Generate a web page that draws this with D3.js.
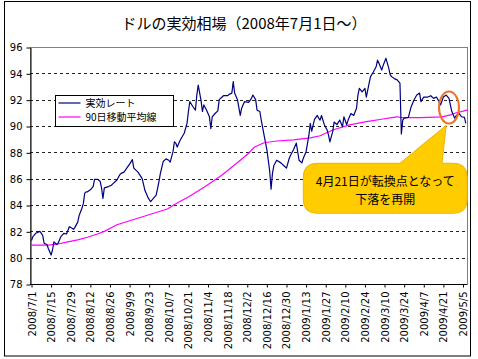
<!DOCTYPE html>
<html>
<head>
<meta charset="utf-8">
<script src="https://cdnjs.cloudflare.com/ajax/libs/d3/7.8.5/d3.min.js"></script>
<style>
  body{margin:0;background:#fff;}
  svg{display:block;}
  text{font-family:"DejaVu Sans",sans-serif;}
  .jp{font-family:"Noto Sans CJK JP",sans-serif;}
</style>
</head>
<body>
<svg id="chart" width="478" height="359"></svg>
<script>
// 実効レート (daily effective rate)
var rateDates = ["2008-07-01","2008-07-02","2008-07-04","2008-07-07","2008-07-09","2008-07-10","2008-07-12","2008-07-13","2008-07-15","2008-07-16","2008-07-17","2008-07-19","2008-07-20","2008-07-22","2008-07-24","2008-07-26","2008-07-28","2008-07-29","2008-07-31",
  "2008-08-01","2008-08-03","2008-08-04","2008-08-06","2008-08-07","2008-08-08","2008-08-09","2008-08-10","2008-08-12","2008-08-14","2008-08-15","2008-08-17","2008-08-19","2008-08-20","2008-08-21","2008-08-22","2008-08-25","2008-08-27","2008-08-28","2008-08-31",
  "2008-09-02","2008-09-03","2008-09-05","2008-09-07","2008-09-09","2008-09-11","2008-09-12","2008-09-15","2008-09-18","2008-09-20","2008-09-22","2008-09-24","2008-09-26","2008-09-28","2008-09-30",
  "2008-10-01","2008-10-03","2008-10-05","2008-10-07","2008-10-08","2008-10-10","2008-10-11","2008-10-12","2008-10-13","2008-10-15","2008-10-18","2008-10-20","2008-10-21","2008-10-22","2008-10-24","2008-10-26","2008-10-27","2008-10-28","2008-10-30","2008-10-31",
  "2008-11-01","2008-11-03","2008-11-05","2008-11-06","2008-11-07","2008-11-09","2008-11-11","2008-11-12","2008-11-14","2008-11-15","2008-11-18","2008-11-19","2008-11-21","2008-11-22","2008-11-23","2008-11-25","2008-11-27","2008-11-28","2008-11-30",
  "2008-12-03","2008-12-05","2008-12-06","2008-12-08","2008-12-09","2008-12-11","2008-12-12","2008-12-14","2008-12-16","2008-12-18","2008-12-19","2008-12-20","2008-12-21","2008-12-23","2008-12-26","2008-12-28","2008-12-30",
  "2009-01-01","2009-01-02","2009-01-04","2009-01-06","2009-01-08","2009-01-10","2009-01-11","2009-01-13","2009-01-15","2009-01-16","2009-01-17","2009-01-19","2009-01-21","2009-01-22","2009-01-23","2009-01-24","2009-01-26","2009-01-28","2009-01-29","2009-01-30",
  "2009-02-01","2009-02-02","2009-02-04","2009-02-06","2009-02-08","2009-02-09","2009-02-11","2009-02-12","2009-02-14","2009-02-16","2009-02-18","2009-02-19","2009-02-20","2009-02-22","2009-02-24","2009-02-25","2009-02-27","2009-02-28",
  "2009-03-02","2009-03-04","2009-03-05","2009-03-06","2009-03-08","2009-03-09","2009-03-11","2009-03-13","2009-03-14","2009-03-15","2009-03-17","2009-03-19","2009-03-21","2009-03-22","2009-03-23","2009-03-24","2009-03-27","2009-03-29","2009-03-31",
  "2009-04-02","2009-04-04","2009-04-05","2009-04-07","2009-04-10","2009-04-12","2009-04-14","2009-04-16","2009-04-18","2009-04-19","2009-04-21","2009-04-23","2009-04-25","2009-04-27","2009-04-29","2009-04-30",
  "2009-05-02","2009-05-04","2009-05-06","2009-05-07"];
var rateValues = [81.3,81.6,81.85,82.0,81.7,81.1,81.0,80.7,80.2,80.6,81.2,81.0,81.1,81.6,81.85,81.8,82.35,82.3,82.15,
  82.3,82.7,83.2,83.75,84.1,84.9,85.0,85.0,85.15,85.4,85.95,85.95,85.8,85.3,84.5,85.3,85.4,85.5,85.6,85.9,
  86.3,86.4,86.5,86.8,87.1,87.45,86.8,86.5,86.0,85.1,84.6,84.25,84.5,84.75,85.8,
  86.4,87.3,87.5,87.4,87.25,88.05,88.8,88.7,88.4,88.9,89.45,90.2,91.1,91.85,91.5,91.2,92.35,93.1,91.95,91.1,
  91.6,91.2,90.7,89.8,90.7,90.95,91.15,92.0,92.2,92.3,92.3,92.4,92.5,93.37,92.5,92.0,90.8,91.35,91.85,
  91.8,92.1,92.35,92.0,91.2,91.1,90.45,89.3,88.2,86.6,85.2,86.4,87.0,87.4,87.2,87.0,86.8,
  87.55,87.8,88.2,88.7,87.4,87.2,87.55,88.05,89.3,90.2,89.6,90.5,90.8,90.6,90.45,90.8,90.1,89.7,89.3,88.8,
  89.57,90.3,90.1,90.45,89.95,90.7,90.1,90.45,90.95,90.8,91.35,92.35,92.86,92.6,92.86,92.2,93.25,93.75,
  94.1,94.5,95.0,94.76,94.25,94.6,95.14,94.4,93.9,93.75,93.6,93.5,93.25,89.4,90.45,90.6,90.66,91.47,91.98,
  92.35,92.5,91.85,92.2,92.2,92.3,92.1,92.2,91.85,91.6,92.2,92.35,92.1,91.1,90.6,90.76,
  90.97,90.7,90.66,90.2];

// 90日移動平均線
var maDates = ["2008-07-01","2008-07-13","2008-07-20","2008-07-27","2008-08-03","2008-08-10","2008-08-17","2008-08-22","2008-08-31","2008-09-12","2008-09-24","2008-10-06","2008-10-12","2008-10-21","2008-11-02","2008-11-14","2008-11-26","2008-12-03","2008-12-07","2008-12-12","2008-12-14","2008-12-23","2009-01-04","2009-01-16","2009-01-23","2009-02-01","2009-02-13","2009-02-25","2009-03-09","2009-03-15","2009-03-19","2009-03-22","2009-04-05","2009-04-20","2009-04-26","2009-04-29","2009-05-08"];
var maValues = [80.95,80.95,81.04,81.2,81.35,81.55,81.8,82.0,82.5,82.9,83.3,83.7,84.1,84.6,85.4,86.28,87.3,87.93,88.38,88.63,88.73,88.86,88.94,89.1,89.26,89.7,90.08,90.33,90.53,90.63,90.7,90.63,90.63,90.7,90.84,90.97,91.2];

var tickLabels = ["2008/7/1","2008/7/15","2008/7/29","2008/8/12","2008/8/26","2008/9/9","2008/9/23","2008/10/7","2008/10/21","2008/11/4","2008/11/18","2008/12/2","2008/12/16","2008/12/30","2009/1/13","2009/1/27","2009/2/10","2009/2/24","2009/3/10","2009/3/24","2009/4/7","2009/4/21","2009/5/5"];
var yTicks = [78,80,82,84,86,88,90,92,94,96];

var parseDash = d3.timeParse("%Y-%m-%d");
var parseSlash = d3.timeParse("%Y/%m/%d");

var rate = rateDates.map(function(d,i){ return {date:parseDash(d), value:rateValues[i]}; });
var ma = maDates.map(function(d,i){ return {date:parseDash(d), value:maValues[i]}; });
var ticks = tickLabels.map(function(t){ return {label:t, date:parseSlash(t)}; });

var plot = {left:30, right:467, top:47, bottom:284};

var x = d3.scaleTime()
  .domain([parseSlash("2008/7/1"), parseSlash("2009/5/5")])
  .range([31.5, 463]);
var y = d3.scaleLinear().domain([78,96]).range([plot.bottom, plot.top]);

var svg = d3.select("#chart");

// outer frame
svg.append("rect")
  .attr("x",4.5).attr("y",1.5).attr("width",466).attr("height",354.5)
  .attr("fill","#fff").attr("stroke","#000").attr("stroke-width",1);

// title
svg.append("text").attr("class","jp")
  .attr("x",244).attr("y",29)
  .attr("text-anchor","middle")
  .style("font-size","15px")
  .text("ドルの実効相場（2008年7月1日～）");

// plot box
svg.append("rect")
  .attr("x",plot.left+0.5).attr("y",plot.top+0.5)
  .attr("width",plot.right-plot.left).attr("height",plot.bottom-plot.top)
  .attr("fill","#fff").attr("stroke","#808080");

// gridlines
svg.selectAll(".grid").data(yTicks.filter(function(v){ return v>78 && v<96; })).enter().append("line")
  .attr("class","grid")
  .attr("x1",plot.left).attr("x2",plot.right)
  .attr("y1",function(d){ return Math.round(y(d))+0.5; })
  .attr("y2",function(d){ return Math.round(y(d))+0.5; })
  .attr("stroke","#222").attr("stroke-dasharray","3,3");

// y axis
var yAxis = d3.axisLeft(y).tickValues(yTicks).tickSize(4).tickSizeOuter(0);
var gy = svg.append("g").attr("transform","translate("+(plot.left+0.5)+",0.5)").call(yAxis);
gy.select(".domain").attr("stroke","#000");
gy.selectAll("text").style("font-size","10px").style("font-family","DejaVu Sans").attr("fill","#000").attr("x",-8);

// x axis
var xAxis = d3.axisBottom(x).tickValues(ticks.map(function(t){ return t.date; }))
  .tickSize(3).tickSizeOuter(0)
  .tickFormat(function(d,i){ return tickLabels[i]; });
var gx = svg.append("g").attr("transform","translate(0,"+(plot.bottom+0.5)+")").call(xAxis);
gx.select(".domain").attr("d","M"+plot.left+",0H"+plot.right).attr("stroke","#000");
gx.selectAll("text")
  .style("font-size","10px").style("font-family","DejaVu Sans").attr("fill","#000")
  .attr("text-anchor","end")
  .attr("transform","rotate(-90)")
  .attr("x",-7).attr("y",0).attr("dy","0.35em");

// lines
var line = d3.line()
  .x(function(d){ return x(d.date); })
  .y(function(d){ return y(d.value); });

svg.append("path").datum(ma)
  .attr("d",line).attr("fill","none")
  .attr("stroke","#ff00ff").attr("stroke-width",1.2);

svg.append("path").datum(rate)
  .attr("d",line).attr("fill","none")
  .attr("stroke","#000080").attr("stroke-width",1.2)
  .attr("stroke-linejoin","round");

// legend
var legend = svg.append("g").attr("transform","translate(55.5,95.5)");
legend.append("rect").attr("width",118).attr("height",31).attr("fill","#fff").attr("stroke","#000");
var legItems = [{name:"実効レート",color:"#000080"},{name:"90日移動平均線",color:"#ff00ff"}];
var li = legend.selectAll(".li").data(legItems).enter().append("g")
  .attr("transform",function(d,i){ return "translate(0,"+(7.5+i*14)+")"; });
li.append("line").attr("x1",3).attr("x2",25).attr("stroke",function(d){ return d.color; }).attr("stroke-width",1.2);
li.append("text").attr("class","jp").attr("x",30).attr("dy","0.36em")
  .style("font-size","10px").text(function(d){ return d.name; });

// callout
var bx0 = x(parseDash("2009-01-11")), bx1 = x(parseDash("2009-05-08"));
var by0 = y(87.17), by1 = y(83.37);
var px0 = x(parseDash("2009-03-21")), px1 = x(parseDash("2009-04-20"));
var tipX = x(parseDash("2009-04-23")), tipY = y(90.05);
var r = 14;
var p = "M"+(bx0+r)+","+by0+"L"+px0+","+by0+"L"+tipX+","+tipY+"L"+px1+","+by0+
  "L"+(bx1-r)+","+by0+"Q"+bx1+","+by0+" "+bx1+","+(by0+r)+
  "L"+bx1+","+(by1-r)+"Q"+bx1+","+by1+" "+(bx1-r)+","+by1+
  "L"+(bx0+r)+","+by1+"Q"+bx0+","+by1+" "+bx0+","+(by1-r)+
  "L"+bx0+","+(by0+r)+"Q"+bx0+","+by0+" "+(bx0+r)+","+by0+"Z";
svg.append("path").attr("d",p).attr("fill","#ffcc00").attr("stroke","#f0b400").attr("stroke-width",1);

var cx = (bx0+bx1)/2;
svg.append("text").attr("class","jp").attr("x",cx).attr("y",186)
  .attr("text-anchor","middle").style("font-size","12px")
  .text("4月21日が転換点となって");
svg.append("text").attr("class","jp").attr("x",cx).attr("y",204)
  .attr("text-anchor","middle").style("font-size","12px")
  .text("下落を再開");

// circled turning point
svg.append("ellipse")
  .attr("cx",x(parseDash("2009-04-25"))).attr("cy",y(91.4))
  .attr("rx",10).attr("ry",16)
  .attr("fill","none").attr("stroke","#f07020").attr("stroke-width",2);
</script>
</body>
</html>
